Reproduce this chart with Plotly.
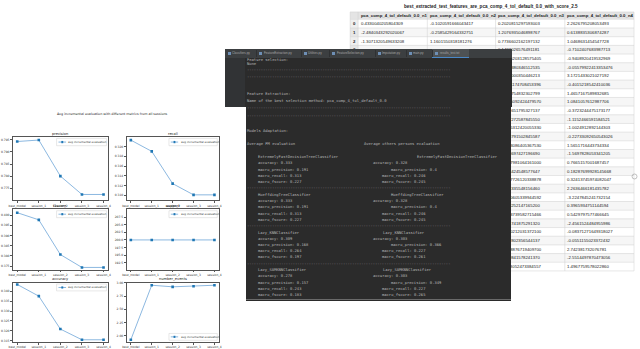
import plotly.graph_objects as go

W, H = 640, 349

# ------------------------------------------------------------------ data: left matplotlib figure
fig_title = "Avg incremental evaluation with different metrics from all sessions"
sessions = ["best_model", "session_1", "session_2", "session_3", "session_4"]
legend_label = "avg incremental evaluation"
metric_names = ["precision", "recall", "f1score", "support", "accuracy", "number_events"]

precision_vals = [0.7943, 0.7949, 0.7800, 0.7724, 0.7724]
recall_vals = [0.3213, 0.3190, 0.3124, 0.3101, 0.3101]
f1score_vals = [0.4012, 0.3977, 0.3807, 0.3744, 0.3744]
support_vals = [200.0, 200.0, 200.0, 200.0, 200.0]
accuracy_vals = [0.3434, 0.3375, 0.3209, 0.3155, 0.3155]
number_events_vals = [1.923, 2.955, 2.925, 2.936, 2.955]

precision_ticks = [0.775, 0.780, 0.785, 0.790, 0.795]
recall_ticks = [0.310, 0.312, 0.314, 0.316, 0.318, 0.320]
f1score_ticks = [0.375, 0.380, 0.385, 0.390, 0.395, 0.400]
support_ticks = [192.5, 195.0, 197.5, 200.0, 202.5, 205.0, 207.5]
accuracy_ticks = [0.315, 0.320, 0.325, 0.330, 0.335, 0.340]
number_events_ticks = [2.00, 2.25, 2.50, 2.75, 3.00]

# ------------------------------------------------------------------ data: IDE console
tab_names = ["Classifiers.py", "FeatureExtraction.py", "Utilities.py", "FeatureSelection.py",
             "Imputation.py", "main.py", "results_test.txt"]
console_head = ["Feature selection:", "None", "Feature Extraction:",
                "Name of the best selection method: pca_comp_4_tol_default_0.0",
                "Models Adaptation:"]
col_titles = ["Average PM evaluation", "Average others persons evaluation"]
model_names = ["ExtremelyFastDecisionTreeClassifier", "HoeffdingTreeClassifier",
               "Lazy_KNNClassifier", "Lazy_SAMKNNClassifier"]
metric_keys = ["accuracy", "macro_precision", "macro_recall", "macro_fscore"]
pm_accuracy = [0.333, 0.333, 0.309, 0.278]
pm_precision = [0.191, 0.191, 0.168, 0.157]
pm_recall = [0.313, 0.313, 0.264, 0.243]
pm_fscore = [0.227, 0.227, 0.197, 0.183]
others_accuracy = [0.328, 0.328, 0.303, 0.303]
others_precision = [0.4, 0.4, 0.366, 0.349]
others_recall = [0.246, 0.246, 0.227, 0.227]
others_fscore = [0.245, 0.245, 0.261, 0.265]

# ------------------------------------------------------------------ data: table
table_title = "best_extracted_test_features_are_pca_comp_4_tol_default_0.0_with_score_2.5"
table_columns = ["pca_comp_4_tol_default_0.0_n1", "pca_comp_4_tol_default_0.0_n2",
                 "pca_comp_4_tol_default_0.0_n3", "pca_comp_4_tol_default_0.0_n4"]
row_index = list(range(29))
col_n1 = ["0.4330040205804309", "-2.4840343292020067", "-1.3071320549633208"] + [""] * 26
col_n2 = ["-0.1020591666043417", "-0.2585429164332751", "1.1601550318181276"] + [""] * 26
col_n3 = ["0.2020815297593003", "1.2076935046898767", "0.7736602162197132",
          "0.1432026576491181", "-0.5855203128575405", "1.0843380346512535",
          "0.2732000350446213", "-0.9141174708453396", "0.6225754832302799",
          "-1.2995092424479570", "0.0431651795327137", "1.4847272587845550",
          "-0.2355312420055330", "0.9533791502845587", "-0.6743086405367530",
          "0.3018697427196690", "-1.1327981064161000", "0.0648424548577647",
          "-0.4817726120338878", "0.7944335548156460", "-0.2320605339944592",
          "1.0848252147165200", "-0.6653739582715466", "0.2331741875291320",
          "-1.0980212031372100", "0.5677802356544137", "-0.3648876719409700",
          "0.9559841578241370", "-0.1138052473384557"]
col_n4 = ["2.2626795208053493", "0.6138835306874287", "1.0468631454547728",
          "-0.7102407683987713", "-0.9408920419532969", "-0.05579922413353476",
          "3.1721433021027192", "-0.4015218542410036", "1.4657167589832685",
          "1.0841057612987706", "-0.3723244475173177", "-1.1152466591584521",
          "-1.0024912892144303", "-0.22733092650543026", "1.5651716443734334",
          "-1.5697828053341205", "0.7665157001687457", "0.18287699928145668",
          "0.32413745974082047", "2.2636466181435782", "-3.2247845241732154",
          "0.3965934751144594", "0.5429797577466645", "-2.4561524484955986",
          "-0.08371271649318027", "-0.0551155023372432", "2.742381732076781",
          "-2.5514497870473056", "1.4967759578022860"]

# ------------------------------------------------------------------ helpers
def px(x):
    return x / W

def py(y):
    return 1 - y / H

shapes, annotations = [], []

def text_ann(x, y, s, size, color, family, xanchor="left", yanchor="middle"):
    annotations.append(dict(x=px(x), y=py(y), xref="paper", yref="paper", text=s,
                            showarrow=False, xanchor=xanchor, yanchor=yanchor,
                            borderpad=0, font=dict(size=size, color=color, family=family)))

def box_ann(x0, y0, x1, y1, color):
    annotations.append(dict(x=px(x0), y=py(y0), xref="paper", yref="paper", text=" ",
                            showarrow=False, xanchor="left", yanchor="top",
                            width=max(1, x1 - x0), height=max(1, y1 - y0), bgcolor=color,
                            borderpad=0, borderwidth=0, font=dict(size=1, color=color)))

def rect(x0, y0, x1, y1, fill, line=None, lw=0):
    shapes.append(dict(type="rect", xref="paper", yref="paper", x0=px(x0), x1=px(x1),
                       y0=py(y1), y1=py(y0), fillcolor=fill, layer="above",
                       line=dict(color=line or fill, width=lw)))

def hline(x0, x1, y, color, lw=0.5):
    shapes.append(dict(type="line", xref="paper", yref="paper", x0=px(x0), x1=px(x1),
                       y0=py(y), y1=py(y), layer="above", line=dict(color=color, width=lw)))

def vline(x, y0, y1, color, lw=0.5):
    shapes.append(dict(type="line", xref="paper", yref="paper", x0=px(x), x1=px(x),
                       y0=py(y0), y1=py(y1), layer="above", line=dict(color=color, width=lw)))

MPL = "DejaVu Sans"
MONO = "DejaVu Sans Mono"
SANS = "Liberation Sans"

fig = go.Figure()
layout = dict(width=W, height=H, margin=dict(l=0, r=0, t=0, b=0),
              paper_bgcolor="white", plot_bgcolor="white", showlegend=False)

# ------------------------------------------------------------------ left figure
panels = [
    dict(vals=precision_vals, ticks=precision_ticks, fmt=".3f", box=(9, 105, 136, 200), yr=(0.77000, 0.79623), leg="top"),
    dict(vals=recall_vals, ticks=recall_ticks, fmt=".3f", box=(124, 217, 136, 200), yr=(0.30899, 0.32197), leg="top"),
    dict(vals=f1score_vals, ticks=f1score_ticks, fmt=".3f", box=(9, 105, 209, 270), yr=(0.37330, 0.40291), leg="top"),
    dict(vals=support_vals, ticks=support_ticks, fmt=".1f", box=(124, 217, 209, 270), yr=(190.26, 210.06), leg="top"),
    dict(vals=accuracy_vals, ticks=accuracy_ticks, fmt=".3f", box=(9, 105, 283, 343), yr=(0.31435, 0.34435), leg="top"),
    dict(vals=number_events_vals, ticks=number_events_ticks, fmt=".2f", box=(124, 217, 283, 343), yr=(1.880, 3.0056), leg="bottom"),
]

for i, p in enumerate(panels):
    s = "" if i == 0 else str(i + 1)
    x0, x1, y0, y1 = p["box"]
    fig.add_trace(go.Scatter(x=list(range(len(sessions))), y=p["vals"], mode="lines+markers",
                             xaxis="x" + s, yaxis="y" + s, name=legend_label,
                             line=dict(color="#7fb0dc", width=0.9),
                             marker=dict(symbol="square", size=2.6, color="#1f77b4")))
    axcommon = dict(showgrid=False, zeroline=False, showline=True, mirror=True,
                    linecolor="#555555", linewidth=0.6, ticks="outside", ticklen=2,
                    tickwidth=0.5, tickcolor="#555555",
                    tickfont=dict(size=3, color="#333333", family=MPL))
    layout["xaxis" + s] = dict(domain=[px(x0), px(x1)], anchor="y" + s, range=[-0.2, 4.2],
                               tickvals=list(range(len(sessions))), ticktext=sessions, **axcommon)
    layout["yaxis" + s] = dict(domain=[py(y1), py(y0)], anchor="x" + s, range=list(p["yr"]),
                               tickvals=p["ticks"], tickformat=p["fmt"], **axcommon)
    xd, yd = ("x" if i == 0 else "x" + s) + " domain", ("y" if i == 0 else "y" + s) + " domain"
    annotations.append(dict(x=0.5, y=1, xref=xd, yref=yd, text=metric_names[i], showarrow=False,
                            xanchor="center", yanchor="bottom", yshift=0.3, borderpad=0,
                            font=dict(size=3.6, color="#222222", family=MPL)))
    ly0, ly1 = (0.86, 0.975) if p["leg"] == "top" else (0.03, 0.145)
    shapes.append(dict(type="rect", xref=xd, yref=yd, x0=0.46, x1=0.985, y0=ly0, y1=ly1,
                       fillcolor="white", line=dict(color="#d0d0d0", width=0.5)))
    ym = (ly0 + ly1) / 2
    shapes.append(dict(type="line", xref=xd, yref=yd, x0=0.48, x1=0.56, y0=ym, y1=ym,
                       line=dict(color="#7fb0dc", width=0.9)))
    shapes.append(dict(type="rect", xref=xd, yref=yd, x0=0.51, x1=0.53, y0=ym - 0.018, y1=ym + 0.018,
                       fillcolor="#1f77b4", line=dict(color="#1f77b4", width=0)))
    annotations.append(dict(x=0.575, y=ym, xref=xd, yref=yd, text=legend_label, showarrow=False,
                            xanchor="left", yanchor="middle", borderpad=0,
                            font=dict(size=2.8, color="#333333", family=MPL)))

text_ann(110, 113, fig_title, 3.3, "#222222", MPL, xanchor="center")

# ------------------------------------------------------------------ table (drawn with shapes + annotations)
col_edges = [350, 358, 428, 497, 567, 637]
head_top, head_bot, row_h = 10, 17.5, 8.75
n_rows = len(row_index)
tbl_bot = head_bot + n_rows * row_h
win_top = 47.5  # rows below this are covered by the console window on the left part

text_ann(492, 5, "<b>" + table_title + "</b>", 4.6, "#222222", SANS, xanchor="center")
rect(col_edges[0], head_top, col_edges[-1], head_bot, "#e4e4e4")
for r in range(n_rows):
    ry0 = head_bot + r * row_h
    rect(col_edges[0], ry0, col_edges[-1], ry0 + row_h, "#f6f6f6" if r % 2 else "#ffffff")
    rect(col_edges[0], ry0, col_edges[1], ry0 + row_h, "#e6e6e6" if r % 2 else "#efefef")
for r in range(n_rows + 2):
    yy = head_top if r == 0 else head_bot + (r - 1) * row_h
    hline(col_edges[0], col_edges[-1], yy, "#cfcfcf", 0.5)
for xe in col_edges:
    vline(xe, head_top, tbl_bot, "#cfcfcf", 0.5)
for c, name in enumerate(table_columns):
    text_ann(col_edges[c + 1] + 1.6, (head_top + head_bot) / 2, "<b>" + name + "</b>", 4.3, "#222222", SANS)
cols = [col_n1, col_n2, col_n3, col_n4]
for r in range(n_rows):
    yc = head_bot + (r + 0.5) * row_h
    if head_bot + r * row_h < win_top:
        text_ann((col_edges[0] + col_edges[1]) / 2, yc, "<b>" + str(row_index[r]) + "</b>", 4.3, "#222222", SANS, xanchor="center")
    for c, col in enumerate(cols):
        if col[r]:
            text_ann(col_edges[c + 1] + 1.6, yc, col[r], 4.3, "#222222", SANS)
shapes.append(dict(type="circle", xref="paper", yref="paper", x0=px(635), x1=px(640),
                   y0=py(178.5), y1=py(173.5), layer="above", line=dict(color="#999999", width=0.6)))

# ------------------------------------------------------------------ IDE console window (covers the table)
DARK = "#2b2b2b"
FG = "#b9b9b9"
box_ann(223, 47, 510, 105, DARK)
box_ann(245, 105, 510, 300, DARK)
box_ann(223, 56, 243, 105, "#313335")
dashes = "-" * 89
tx = 245
text_ann(tx, 57.5, console_head[0], 3.8, FG, MONO)
text_ann(tx, 62.5, console_head[1], 3.8, FG, MONO)
text_ann(tx, 68.5, dashes, 3.8, FG, MONO)
text_ann(tx, 75, dashes, 3.8, FG, MONO)
text_ann(tx, 92, console_head[2], 3.8, FG, MONO)
text_ann(tx, 99, console_head[3], 3.8, FG, MONO)
text_ann(tx, 106, dashes, 3.8, FG, MONO)
text_ann(tx, 114, dashes, 3.8, FG, MONO)
text_ann(tx, 130, console_head[4], 3.8, FG, MONO)
text_ann(tx, 143, col_titles[0], 3.8, FG, MONO)
text_ann(363, 143, col_titles[1], 3.8, FG, MONO)
block_y = [156, 194, 232, 270]
right_name_x = [417, 390, 382, 382]
right_metric_x = [372, 390, 381, 381]
pm = [pm_accuracy, pm_precision, pm_recall, pm_fscore]
oth = [others_accuracy, others_precision, others_recall, others_fscore]
for b, name in enumerate(model_names):
    y0 = block_y[b]
    text_ann(256, y0, name, 3.8, FG, MONO)
    text_ann(right_name_x[b], y0, name, 3.8, FG, MONO)
    for k, key in enumerate(metric_keys):
        yk = y0 + 6.3 * (k + 1)
        text_ann(256, yk, f"{key}: {pm[k][b]}", 3.8, FG, MONO)
        text_ann(right_metric_x[k], yk, f"{key}: {oth[k][b]}", 3.8, FG, MONO)
    if b < 3:
        text_ann(tx, y0 + 31.5, dashes, 3.8, FG, MONO)
box_ann(245, 299.5, 510, 300.5, "#6a6a6a")

# tab bar (on top of the clipped first console line)
box_ann(223, 47.5, 510, 56, "#3c3f41")
box_ann(433, 47.5, 470, 56, "#4e5254")
box_ann(433, 55, 470, 56, "#4a88c7")
tab_x = [226, 258, 303, 332, 378, 409, 436]
for t, name in enumerate(tab_names):
    box_ann(tab_x[t], 50, tab_x[t] + 2.5, 53, "#6e8fb5")
    text_ann(tab_x[t] + 3.5, 51.5, name, 3.0, "#a8a8a8", SANS)
    if t < len(tab_names) - 1:
        box_ann(tab_x[t + 1] - 3, 48.5, tab_x[t + 1] - 2, 55, "#2f3133")

layout["shapes"] = shapes
layout["annotations"] = annotations
fig.update_layout(**layout)
fig.write_html("out.html", config={"displayModeBar": False},
               post_script="document.body.style.margin='0';document.body.style.overflow='hidden';")
